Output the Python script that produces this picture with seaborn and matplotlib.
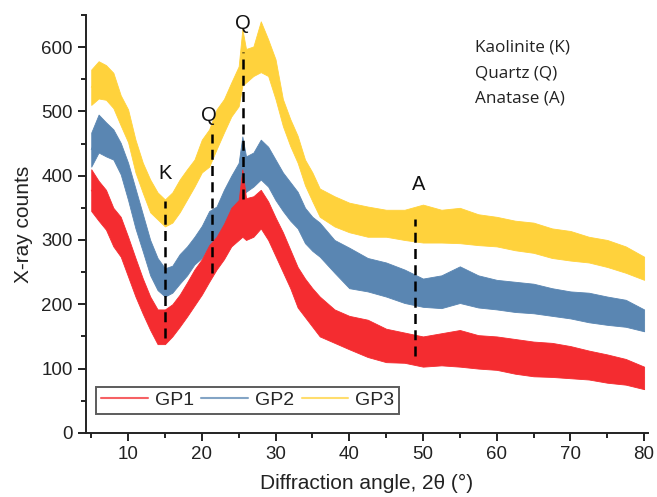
import numpy as np
import pandas as pd
import seaborn as sns
import matplotlib.pyplot as plt
from matplotlib.ticker import MultipleLocator

# diffraction angle nodes (2theta, deg)
angle = [5, 6, 7, 8, 9, 10, 11, 12, 13, 14, 15, 16, 17, 18, 19, 20, 21, 22, 23, 24,
         25, 25.5, 26, 27, 28, 29, 30, 31, 32, 33, 34, 35, 36, 38, 40, 42.5, 45, 47.5,
         50, 52.5, 55, 57.5, 60, 62.5, 65, 67.5, 70, 72.5, 75, 77.5, 80]

# lower / upper edge of the noisy trace
gp1_low = [345, 330, 316, 290, 274, 243, 212, 185, 160, 138, 138, 150, 165, 181, 198, 215, 235,
           254, 270, 290, 300, 305, 300, 305, 318, 300, 275, 250, 225, 195, 180, 165, 150, 140,
           130, 118, 110, 109, 103, 105, 103, 100, 98, 92, 88, 87, 85, 83, 78, 75, 68]
gp1_high = [410, 392, 378, 350, 336, 305, 272, 240, 212, 192, 192, 200, 215, 234, 254, 270, 292,
            305, 325, 350, 362, 410, 365, 368, 378, 360, 335, 312, 285, 258, 240, 225, 212, 192,
            182, 176, 162, 156, 150, 155, 160, 152, 150, 146, 142, 140, 135, 128, 122, 115, 103]

gp2_low = [414, 436, 430, 425, 402, 362, 318, 282, 245, 222, 212, 218, 232, 245, 262, 272, 290,
           305, 322, 340, 360, 368, 375, 383, 394, 383, 362, 345, 330, 318, 295, 283, 274, 249,
           225, 220, 212, 202, 196, 194, 202, 195, 192, 188, 186, 182, 178, 172, 168, 165, 158]
gp2_high = [467, 495, 483, 472, 451, 420, 380, 340, 300, 272, 256, 260, 278, 290, 305, 322, 345,
            352, 378, 400, 420, 461, 430, 436, 456, 445, 425, 405, 390, 375, 350, 336, 327, 300,
            288, 272, 265, 254, 240, 245, 259, 245, 238, 235, 232, 225, 220, 218, 212, 207, 192]

gp3_low = [510, 520, 518, 505, 478, 452, 405, 373, 343, 332, 321, 327, 343, 363, 383, 405, 414,
           441, 467, 492, 508, 540, 545, 555, 561, 555, 519, 477, 446, 420, 385, 360, 336, 321,
           312, 305, 305, 300, 296, 296, 295, 292, 290, 284, 280, 272, 268, 265, 258, 249, 238]
gp3_high = [565, 578, 572, 560, 525, 503, 456, 420, 394, 374, 363, 374, 394, 410, 425, 456, 472,
            503, 519, 545, 570, 628, 597, 601, 640, 612, 581, 519, 488, 462, 425, 405, 380, 368,
            358, 352, 347, 347, 355, 347, 350, 340, 336, 330, 327, 318, 314, 305, 300, 290, 274]

series = ["GP1", "GP2", "GP3"]
colors = {"GP1": "#F42C30", "GP2": "#5A86B2", "GP3": "#FFD23C"}

# reference phase lines: label, position, bottom, top, label position
peak_labels = ["K", "Q", "Q", "A"]
peak_pos = [15.0, 21.4, 25.6, 48.9]
peak_bottom = [148, 249, 363, 119]
peak_top = [360, 465, 592, 332]
label_x = [15.0, 20.9, 25.6, 49.4]
label_y = [403, 494, 637, 386]

phases = ["Kaolinite (K)", "Quartz (Q)", "Anatase (A)"]

frames = []
for name, lo, hi in [("GP1", gp1_low, gp1_high), ("GP2", gp2_low, gp2_high), ("GP3", gp3_low, gp3_high)]:
    frames.append(pd.DataFrame({"angle": angle, "low": lo, "high": hi, "series": name}))
df = pd.concat(frames, ignore_index=True)
df["mid"] = (df["low"] + df["high"]) / 2

sns.set_theme(style="ticks")
plt.rcParams["font.family"] = ["Liberation Sans", "DejaVu Sans"]

fig = plt.figure(figsize=(6.57, 4.97), dpi=100)
ax = fig.add_axes([0.131, 0.129, 0.855, 0.841])

for name in ["GP3", "GP2", "GP1"]:
    d = df[df["series"] == name]
    ax.fill_between(d["angle"], d["low"], d["high"], color=colors[name], lw=0.6,
                    edgecolor=colors[name], zorder=2)

sns.lineplot(data=df, x="angle", y="mid", hue="series", hue_order=series,
             palette=colors, lw=0.6, ax=ax, zorder=2.5)

for lab, p, b, t, lx, ly in zip(peak_labels, peak_pos, peak_bottom, peak_top, label_x, label_y):
    ax.plot([p, p], [b, t], color="black", ls=(0, (4, 2.5)), lw=1.8, zorder=5)
    ax.text(lx, ly, lab, ha="center", va="center", fontsize=14.5, color="#111111")

for i, ph in enumerate(phases):
    ax.text(0.692, 0.923 - i * 0.062, ph, transform=ax.transAxes, ha="left", va="center",
            fontsize=12.3, family=["Open Sans", "DejaVu Sans"], color="#222222")

ax.set_xlim(4.3, 80.5)
ax.set_ylim(0, 650)
ax.xaxis.set_major_locator(MultipleLocator(10))
ax.xaxis.set_minor_locator(MultipleLocator(5))
ax.yaxis.set_major_locator(MultipleLocator(100))
ax.yaxis.set_minor_locator(MultipleLocator(50))
ax.tick_params(which="major", direction="out", length=6, width=1.4, labelsize=13.5,
               color="#222222", labelcolor="#222222")
ax.tick_params(which="minor", direction="out", length=3.5, width=1.4, color="#222222")
for s in ["left", "bottom"]:
    ax.spines[s].set_linewidth(1.4)
    ax.spines[s].set_color("#222222")
sns.despine(ax=ax)

ax.set_xlabel("Diffraction angle, 2θ (°)", fontsize=15, color="#222222", labelpad=8)
ax.set_ylabel("X-ray counts", fontsize=15, color="#222222", labelpad=6)

leg = ax.legend(loc="lower left", bbox_to_anchor=(0.018, 0.045), ncol=3, fontsize=14,
                frameon=True, fancybox=False, edgecolor="#333333", handlelength=2.4,
                handletextpad=0.35, columnspacing=0.4, borderpad=0.25, borderaxespad=0)
leg.get_frame().set_linewidth(1.4)
for line in leg.get_lines():
    line.set_linewidth(1.5)
    line.set_alpha(0.75)

fig.savefig("out.png", dpi=100)
